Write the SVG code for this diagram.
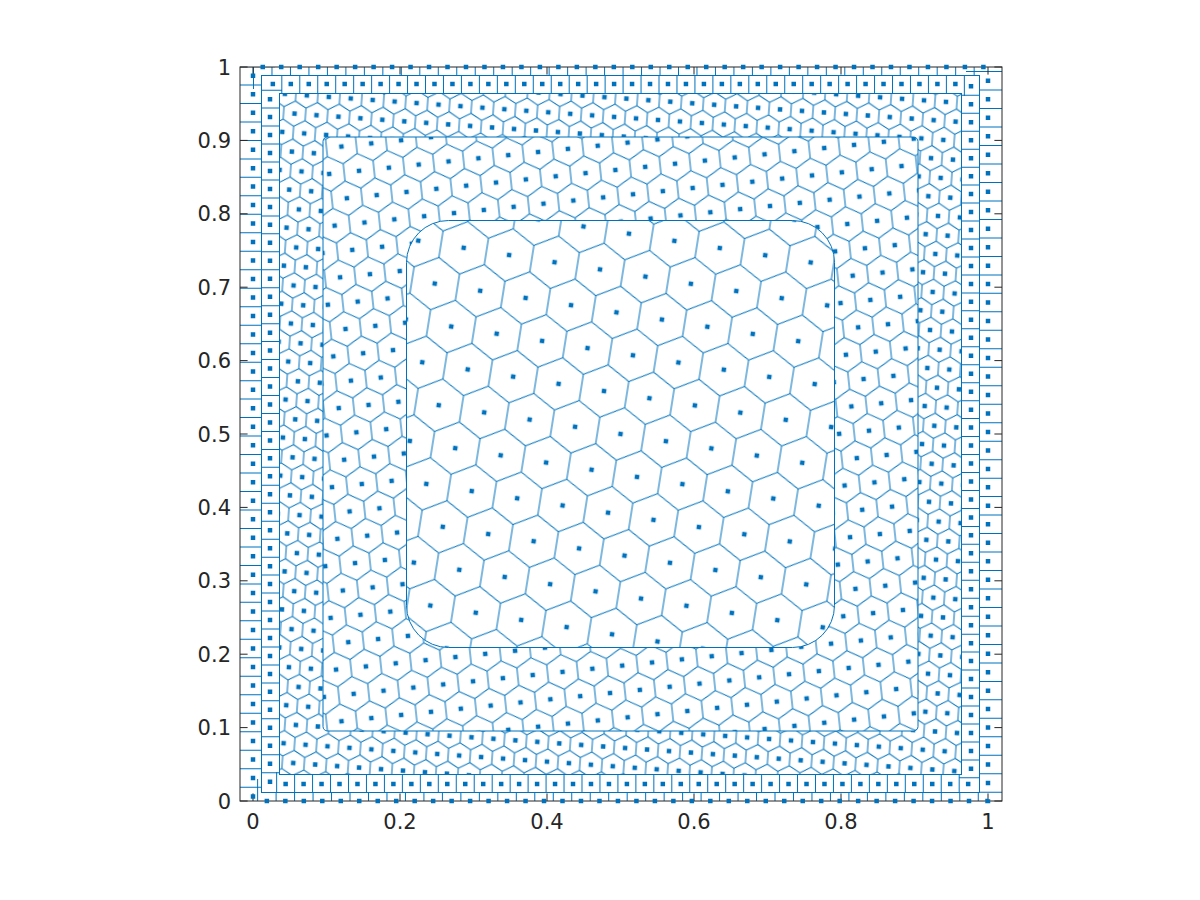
<svg xmlns="http://www.w3.org/2000/svg" width="1200" height="900" viewBox="0 0 1200 900">
<style>
.ln{fill:none;stroke:#0072BD;stroke-width:1}
.dv{fill:none;stroke:#0072BD;stroke-linecap:butt}
.pt{fill:none;stroke:#0072BD;stroke-width:4.5;stroke-linecap:butt}
.ax{fill:none;stroke:#262626;stroke-width:1}
.tl{font-family:"DejaVu Sans","Liberation Sans",sans-serif;font-size:21px;fill:#262626}
.w{fill:#fff}
.b{fill:#000}
.dt{fill:#0072BD}
</style>
<defs>
<pattern id="hex" patternUnits="userSpaceOnUse" x="597.5" y="394.16" width="46" height="79.67" patternTransform="rotate(9 620.5 434)">
<path class="ln" d="M23,13.28 L46,26.56 V53.12 L23,66.39 L0,53.12 V26.56 Z M23,0 V13.28 M23,66.39 V79.67"/>
<rect class="dt" x="20.75" y="37.59" width="4.5" height="4.5"/>
<rect class="dt" x="-2.25" y="-2.25" width="4.5" height="4.5"/>
<rect class="dt" x="43.75" y="-2.25" width="4.5" height="4.5"/>
<rect class="dt" x="-2.25" y="77.42" width="4.5" height="4.5"/>
<rect class="dt" x="43.75" y="77.42" width="4.5" height="4.5"/>
</pattern>
<pattern id="hex2" patternUnits="userSpaceOnUse" x="253" y="67" width="30" height="51.96" patternTransform="rotate(-6 620.5 434)">
<path class="ln" d="M15,8.66 L30,17.32 V34.64 L15,43.3 L0,34.64 V17.32 Z M15,0 V8.66 M15,43.3 V51.96"/>
<rect class="dt" x="12.75" y="23.73" width="4.5" height="4.5"/>
<rect class="dt" x="-2.25" y="-2.25" width="4.5" height="4.5"/>
<rect class="dt" x="27.75" y="-2.25" width="4.5" height="4.5"/>
<rect class="dt" x="-2.25" y="49.71" width="4.5" height="4.5"/>
<rect class="dt" x="27.75" y="49.71" width="4.5" height="4.5"/>
</pattern>
<pattern id="hex3" patternUnits="userSpaceOnUse" x="262" y="80" width="22" height="38.11" patternTransform="rotate(4 620.5 434)">
<path class="ln" d="M11,6.35 L22,12.7 V25.4 L11,31.75 L0,25.4 V12.7 Z M11,0 V6.35 M11,31.75 V38.11"/>
<rect class="dt" x="8.75" y="16.8" width="4.5" height="4.5"/>
<rect class="dt" x="-2.25" y="-2.25" width="4.5" height="4.5"/>
<rect class="dt" x="19.75" y="-2.25" width="4.5" height="4.5"/>
<rect class="dt" x="-2.25" y="35.86" width="4.5" height="4.5"/>
<rect class="dt" x="19.75" y="35.86" width="4.5" height="4.5"/>
</pattern>
<mask id="m0" maskUnits="userSpaceOnUse" x="0" y="0" width="1200" height="900"><rect class="w" x="240" y="67" width="762" height="734"/><rect class="b" x="261.5" y="75.5" width="718" height="717"/></mask>
<mask id="m1" maskUnits="userSpaceOnUse" x="0" y="0" width="1200" height="900"><rect class="w" x="261.5" y="75.5" width="718" height="717"/><rect class="b" x="279.5" y="93.5" width="682" height="681"/></mask>
<mask id="mB" maskUnits="userSpaceOnUse" x="0" y="0" width="1200" height="900"><rect class="w" x="279.5" y="93.5" width="682" height="681"/><rect class="b" x="323" y="137" width="595" height="594" rx="4.5"/></mask>
<mask id="mA" maskUnits="userSpaceOnUse" x="0" y="0" width="1200" height="900"><rect class="w" x="323" y="137" width="595" height="594" rx="4.5"/><rect class="b" x="406.5" y="220.5" width="428" height="427" rx="42"/></mask>
</defs>
<g id="cells">
<g id="outer-cells">
<rect x="279.5" y="93.5" width="682" height="681" fill="url(#hex3)" mask="url(#mB)"/>
</g>
<g id="middle-cells">
<rect x="323" y="137" width="595" height="594" fill="url(#hex2)" mask="url(#mA)"/>
</g>
<g id="centre-cells">
<rect x="406.5" y="220.5" width="428" height="427" rx="42" fill="url(#hex)"/>
</g>
<g id="ring-boundaries">
<rect class="ln" x="261.5" y="75.5" width="718" height="717"/>
<rect class="ln" x="279.5" y="93.5" width="682" height="681"/>
<rect class="ln" x="323" y="137" width="595" height="594" rx="4.5"/>
<rect class="ln" x="406.5" y="220.5" width="428" height="427" rx="42"/>
</g>
<g id="dividers">
<path class="dv" mask="url(#m0)" d="M253,67 H988 V801 H253 Z" pathLength="15900" stroke-width="44" stroke-dasharray="5.41 94.59" stroke-dashoffset="0"/>
<path class="dv" mask="url(#m1)" d="M270,84 H971 V784 H270 Z" pathLength="15600" stroke-width="24" stroke-dasharray="5.57 94.43" stroke-dashoffset="37"/>
</g>
</g>
<g id="axes">
<rect class="ax" x="240" y="67" width="762" height="734"/>
<path class="ax" d="M253,801 v-7.6 M400,801 v-7.6 M547,801 v-7.6 M694,801 v-7.6 M841,801 v-7.6 M988,801 v-7.6 M253,67 v7.6 M400,67 v7.6 M547,67 v7.6 M694,67 v7.6 M841,67 v7.6 M988,67 v7.6 M240,801 h7.6 M240,727.6 h7.6 M240,654.2 h7.6 M240,580.8 h7.6 M240,507.4 h7.6 M240,434 h7.6 M240,360.6 h7.6 M240,287.2 h7.6 M240,213.8 h7.6 M240,140.4 h7.6 M240,67 h7.6 M1002,801 h-7.6 M1002,727.6 h-7.6 M1002,654.2 h-7.6 M1002,580.8 h-7.6 M1002,507.4 h-7.6 M1002,434 h-7.6 M1002,360.6 h-7.6 M1002,287.2 h-7.6 M1002,213.8 h-7.6 M1002,140.4 h-7.6 M1002,67 h-7.6"/>
<g class="tl" text-anchor="end">
<text x="231" y="808.6">0</text>
<text x="231" y="735.2">0.1</text>
<text x="231" y="661.8">0.2</text>
<text x="231" y="588.4">0.3</text>
<text x="231" y="515">0.4</text>
<text x="231" y="441.6">0.5</text>
<text x="231" y="368.2">0.6</text>
<text x="231" y="294.8">0.7</text>
<text x="231" y="221.4">0.8</text>
<text x="231" y="148">0.9</text>
<text x="231" y="74.6">1</text>
</g>
<g class="tl" text-anchor="middle">
<text x="253" y="829">0</text>
<text x="400" y="829">0.2</text>
<text x="547" y="829">0.4</text>
<text x="694" y="829">0.6</text>
<text x="841" y="829">0.8</text>
<text x="988" y="829">1</text>
</g>
</g>
<g id="points">
<path class="pt" d="M253,67 H988 V801 H253 Z" pathLength="15900" stroke-dasharray="24.35 75.65" stroke-dashoffset="-40.53"/>
<path class="pt" d="M270,84 H971 V784 H270 Z" pathLength="15600" stroke-dasharray="25.06 74.94" stroke-dashoffset="-3.25"/>
</g>
</svg>
